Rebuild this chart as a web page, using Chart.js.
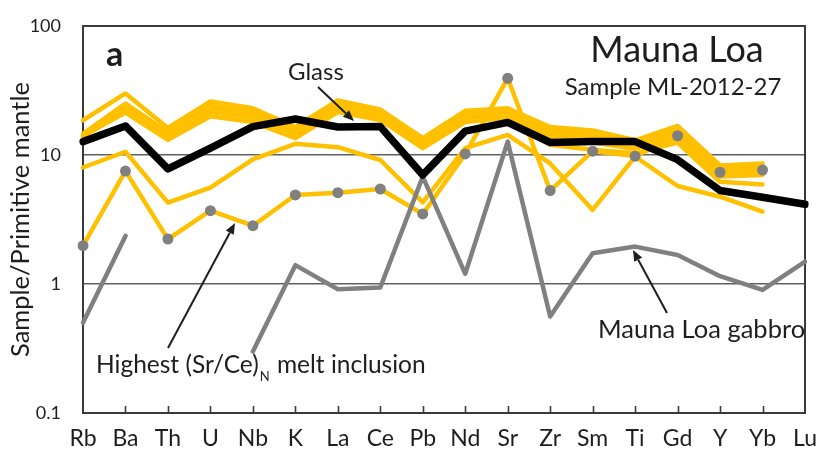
<!DOCTYPE html>
<html>
<head>
<meta charset="utf-8">
<script src="https://cdn.jsdelivr.net/npm/chart.js@4"></script>
<style>
  html, body { margin: 0; padding: 0; background: #ffffff; }
  #wrap { width: 822px; height: 452px; }
</style>
</head>
<body>
<div id="wrap"><canvas id="spider" width="822" height="452"></canvas></div>
<script>
// Trace elements, ordered by incompatibility
const elements = ['Rb','Ba','Th','U','Nb','K','La','Ce','Pb','Nd','Sr','Zr','Sm','Ti','Gd','Y','Yb','Lu'];
const yTickValues = [0.1, 1, 10, 100];

// Sample/primitive-mantle ratios
const glassA = [18.6, 30.0, 16.2, 26.0, 23.0, 16.5, 26.5, 22.5, 13.5, 22.0, 23.0, 16.5, 15.5, 13.0, 16.8, 8.3, 8.6, null];
const glassB = [14.6, 25.0, 15.0, 24.0, 21.5, 15.5, 25.0, 21.5, 13.0, 21.0, 22.0, 15.5, 14.5, 12.5, 15.5, 7.8, 8.1, null];
const glassC = [14.1, 23.5, 14.2, 23.0, 20.5, 14.8, 24.0, 20.5, 12.3, 20.0, 21.0, 14.5, 13.5, 12.0, 14.5, 7.3, 7.5, null];
const glassD = [13.8, 22.5, 13.6, 21.5, 19.5, 14.0, 23.0, 19.5, 11.8, 19.0, 20.0, 13.5, 12.5, 11.2, 13.5, 6.8, 7.0, null];
const glassE = [14.0, 21.3, 13.1, 20.0, 18.0, 13.5, 21.5, 18.7, 11.3, 18.0, 19.5, 12.0, 11.0, 10.3, 12.5, 6.2, 5.9, null];
const glassLow = [8.0, 10.6, 4.27, 5.58, 9.26, 12.2, 11.5, 9.15, 4.3, 11.3, 14.3, 8.6, 3.75, 9.7, 5.75, 4.75, 3.64, null];
const meltInclusion = [1.98, 7.5, 2.23, 3.70, 2.83, 4.9, 5.1, 5.45, 3.49, 10.2, 39.3, 5.3, 10.7, 9.8, 14.1, 7.35, 7.65, null];
const wholeRock = [12.7, 16.8, 7.8, 11.3, 16.6, 19.0, 16.5, 16.6, 7.0, 15.3, 17.9, 12.5, 12.7, 12.7, 9.2, 5.3, 4.7, 4.15];
const gabbro = [0.50, 2.36, null, null, 0.30, 1.40, 0.91, 0.94, 6.8, 1.20, 12.7, 0.56, 1.73, 1.95, 1.68, 1.15, 0.90, 1.49];

const YELLOW = '#FFC000';
const GREY = '#808080';
const INK = '#1e1e1e';
const FONT = 'Lato, "Open Sans", sans-serif';

function lineSet(data, color, width, order, extra) {
  return Object.assign({
    data: data,
    borderColor: color,
    backgroundColor: color,
    borderWidth: width,
    borderJoinStyle: 'round',
    borderCapStyle: 'round',
    pointRadius: 0,
    tension: 0,
    fill: false,
    spanGaps: false,
    order: order
  }, extra || {});
}

const datasets = [
  lineSet(glassA, YELLOW, 4.5, 10),
  lineSet(glassB, YELLOW, 4.5, 9),
  lineSet(glassC, YELLOW, 4.5, 8),
  lineSet(glassD, YELLOW, 4.5, 7),
  lineSet(glassE, YELLOW, 4.5, 6),
  lineSet(glassLow, YELLOW, 4.5, 5),
  lineSet(meltInclusion, YELLOW, 4.5, 4, {
    pointRadius: 5.5, pointBackgroundColor: GREY, pointBorderWidth: 0, pointBorderColor: GREY
  }),
  lineSet(gabbro, GREY, 4.5, 3),
  lineSet(wholeRock, '#000000', 7.5, 2)
];

// Plot frame and inward category ticks
const framePlugin = {
  id: 'frame',
  beforeDatasetsDraw(chart) {
    const { ctx, chartArea: a, scales } = chart;
    ctx.save();
    ctx.strokeStyle = '#3a3a3a';
    ctx.lineWidth = 2;
    ctx.strokeRect(a.left, a.top, a.right - a.left, a.bottom - a.top);
    ctx.lineWidth = 1.6;
    ctx.beginPath();
    for (let i = 1; i < elements.length - 1; i++) {
      const x = Math.round(scales.x.getPixelForValue(i)) + 0.5;
      ctx.moveTo(x, a.bottom);
      ctx.lineTo(x, a.bottom - 7);
    }
    ctx.stroke();
    ctx.restore();
  }
};

function arrow(ctx, x1, y1, x2, y2) {
  const ang = Math.atan2(y2 - y1, x2 - x1);
  const len = 11, half = 4.5;
  const bx = x2 - len * Math.cos(ang), by = y2 - len * Math.sin(ang);
  ctx.beginPath();
  ctx.moveTo(x1, y1);
  ctx.lineTo(bx, by);
  ctx.stroke();
  ctx.beginPath();
  ctx.moveTo(x2, y2);
  ctx.lineTo(bx + half * Math.sin(ang), by - half * Math.cos(ang));
  ctx.lineTo(bx - half * Math.sin(ang), by + half * Math.cos(ang));
  ctx.closePath();
  ctx.fill();
}

// Panel letter, titles and arrowed labels
const notesPlugin = {
  id: 'notes',
  afterDraw(chart) {
    const { ctx } = chart;
    ctx.save();
    ctx.fillStyle = INK;
    ctx.strokeStyle = INK;
    ctx.textBaseline = 'alphabetic';

    ctx.textAlign = 'left';
    ctx.font = 'bold 34px ' + FONT;
    ctx.fillText('a', 106, 66);

    ctx.textAlign = 'center';
    ctx.font = '36px ' + FONT;
    ctx.fillText('Mauna Loa', 677, 62);
    ctx.font = '24px ' + FONT;
    ctx.fillText('Sample ML-2012-27', 673, 95);

    ctx.textAlign = 'left';
    ctx.font = '24px ' + FONT;
    ctx.fillText('Glass', 288, 80);

    // Highest (Sr/Ce)N melt inclusion
    let x = 96;
    const base = 373;
    ctx.font = '24.5px ' + FONT;
    const part1 = 'Highest (Sr/Ce)';
    ctx.fillText(part1, x, base);
    x += ctx.measureText(part1).width;
    ctx.font = '13px ' + FONT;
    ctx.fillText('N', x + 1, base + 8);
    x += ctx.measureText('N').width + 2;
    ctx.font = '24.5px ' + FONT;
    ctx.fillText(' melt inclusion', x, base);

    ctx.font = '25.5px ' + FONT;
    ctx.fillText('Mauna Loa gabbro', 598, 338);

    ctx.lineWidth = 2;
    arrow(ctx, 318, 87, 354, 121);
    arrow(ctx, 168, 348, 235, 223);
    arrow(ctx, 667, 313, 633, 250);
    ctx.restore();
  }
};

new Chart(document.getElementById('spider').getContext('2d'), {
  type: 'line',
  data: { labels: elements, datasets: datasets },
  options: {
    responsive: false,
    animation: false,
    devicePixelRatio: 1,
    layout: { padding: { top: 26, right: 17, left: 0, bottom: 0 } },
    plugins: { legend: { display: false }, tooltip: { enabled: false } },
    scales: {
      x: {
        type: 'category',
        offset: false,
        grid: { display: false, drawTicks: false },
        border: { display: false },
        ticks: { font: { family: FONT, size: 23 }, color: INK, padding: 12, maxRotation: 0, autoSkip: false },
        afterFit(s) { s.height = 39; s.paddingLeft = 0; s.paddingRight = 0; }
      },
      y: {
        type: 'logarithmic',
        min: 0.1,
        max: 100,
        afterBuildTicks(s) { s.ticks = yTickValues.map(v => ({ value: v })); },
        ticks: {
          callback: (v) => String(v),
          font: { family: FONT, size: 18 },
          color: INK,
          padding: 22
        },
        grid: {
          color: (c) => (c.tick && (c.tick.value === 1 || c.tick.value === 10)) ? '#606060' : 'rgba(0,0,0,0)',
          lineWidth: 1.6,
          drawTicks: false
        },
        border: { display: false },
        title: {
          display: true,
          text: 'Sample/Primitive mantle',
          font: { family: FONT, size: 25.5 },
          color: INK,
          padding: { top: 5, bottom: 0 }
        },
        afterFit(s) { s.width = 83; s.paddingTop = 0; s.paddingBottom = 0; }
      }
    }
  },
  plugins: [framePlugin, notesPlugin]
});
</script>
</body>
</html>
